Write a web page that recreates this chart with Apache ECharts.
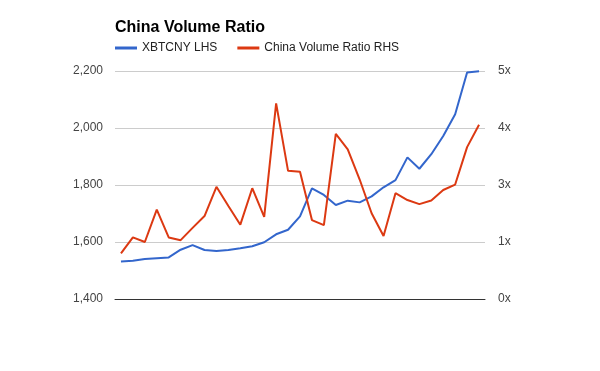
<!DOCTYPE html>
<html>
<head>
<meta charset="utf-8">
<script src="https://cdn.jsdelivr.net/npm/echarts@6/dist/echarts.min.js"></script>
<style>html,body{margin:0;padding:0;background:#fff;}#c{width:600px;height:371px;}</style>
</head>
<body>
<div id="c"></div>
<script>
var categories = [];
for (var i = 1; i <= 31; i++) categories.push(String(i));
var xbtcny = [1532,1534,1540,1543,1546,1573,1589,1572,1568,1572,1578,1585,1599,1627,1643,1690,1788,1765,1730,1745,1739,1760,1792,1817,1897,1857,1908,1972,2048,2195,2199];
var volumeRatio = [1.00,1.35,1.25,1.96,1.35,1.29,1.56,1.82,2.46,2.04,1.63,2.43,1.80,4.29,2.81,2.79,1.73,1.62,3.62,3.28,2.62,1.88,1.38,2.32,2.17,2.08,2.16,2.39,2.51,3.33,3.82];
var leftTicks = {min: 1400, max: 2200, interval: 200};
var rightTicks = {min: 0, max: 5, interval: 1.25};

var chart = echarts.init(document.getElementById('c'));
var font = 'Arial, "Liberation Sans", sans-serif';
chart.setOption({
  animation: false,
  backgroundColor: '#fff',
  title: {
    text: 'China Volume Ratio',
    left: 110, top: 15,
    textStyle: {fontFamily: font, fontSize: 16, fontWeight: 'bold', color: '#000'}
  },
  legend: {
    left: 110, top: 37,
    itemWidth: 22, itemHeight: 3, itemGap: 20,
    icon: 'rect',
    textStyle: {fontFamily: font, fontSize: 12, color: '#222'},
    data: ['XBTCNY LHS', 'China Volume Ratio RHS']
  },
  grid: {left: 115, right: 115, top: 71, bottom: 72},
  xAxis: {
    type: 'category',
    data: categories,
    boundaryGap: true,
    axisLine: {show: true, lineStyle: {color: '#333', width: 1}},
    axisTick: {show: false},
    axisLabel: {show: false}
  },
  yAxis: [
    {
      type: 'value',
      min: leftTicks.min, max: leftTicks.max, interval: leftTicks.interval,
      axisLine: {show: false}, axisTick: {show: false},
      axisLabel: {fontFamily: font, fontSize: 12, color: '#444', margin: 12,
        formatter: function (v) { return v.toLocaleString('en-US'); }},
      splitLine: {lineStyle: {color: '#ccc', width: 1}}
    },
    {
      type: 'value',
      min: rightTicks.min, max: rightTicks.max, interval: rightTicks.interval,
      axisLine: {show: false}, axisTick: {show: false},
      axisLabel: {fontFamily: font, fontSize: 12, color: '#444', margin: 13,
        formatter: function (v) { return Math.round(v) + 'x'; }},
      splitLine: {show: false}
    }
  ],
  series: [
    {
      name: 'XBTCNY LHS', type: 'line', yAxisIndex: 0, data: xbtcny,
      showSymbol: false, symbol: 'none', color: '#3366cc',
      lineStyle: {width: 2, color: '#3366cc'}, z: 2
    },
    {
      name: 'China Volume Ratio RHS', type: 'line', yAxisIndex: 1, data: volumeRatio,
      showSymbol: false, symbol: 'none', color: '#dc3912',
      lineStyle: {width: 2, color: '#dc3912'}, z: 3
    }
  ]
});
</script>
</body>
</html>
